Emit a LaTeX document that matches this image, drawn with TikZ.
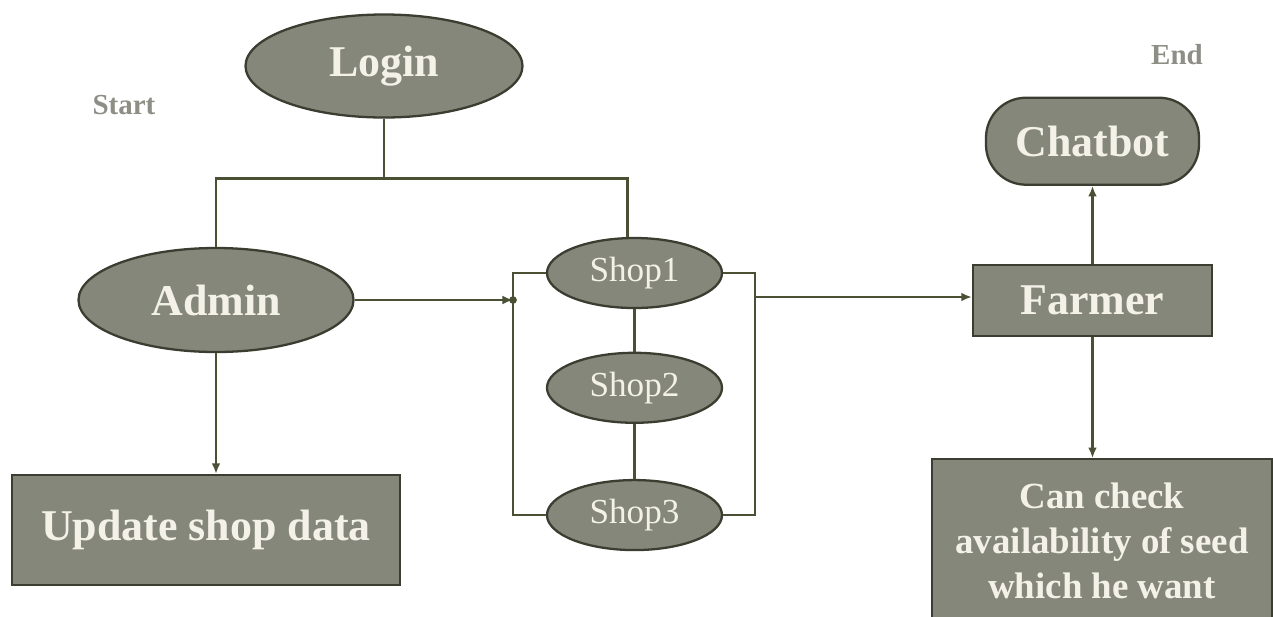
\documentclass[tikz,border=0pt]{standalone}
\usepackage{fontspec}
\setmainfont{Liberation Serif}
\usepackage{xcolor}
\definecolor{SageFill}{HTML}{85877A}
\definecolor{DarkRim}{HTML}{3A3D30}
\definecolor{OliveLine}{HTML}{4A5034}
\definecolor{Cream}{HTML}{F3F1E8}
\definecolor{SoftGray}{HTML}{8E8E86}
\usetikzlibrary{shapes.geometric, arrows.meta, positioning, calc}

\begin{document}
\begin{tikzpicture}[node distance=1cm,
        stage/.style={draw=DarkRim, line width=1.3pt, fill=SageFill, text=Cream, font=\fontsize{25}{30}\selectfont\bfseries},
        shopnode/.style={ellipse, draw=DarkRim, line width=1.3pt, fill=SageFill, text=Cream, minimum width=3.5cm, minimum height=1.4cm, font=\fontsize{20}{24}\selectfont},
        flow/.style={OliveLine, line width=1.6pt},
        tip/.style={flow, -{Latex[length=6pt, width=5pt]}},
        marker/.style={text=SoftGray, font=\fontsize{16.5}{20}\selectfont\bfseries}]
        \useasboundingbox (0,0) rectangle (25.46,-12.32);

        \node (login) [stage, ellipse, minimum width=5.54cm, minimum height=2.06cm] at (7.68,-1.32) {Login};
        \node (start) [marker] at (2.48,-2.10) {Start};
        \node (admin) [stage, ellipse, minimum width=5.5cm, minimum height=2.08cm] at (4.32,-6.00) {Admin};
        \node (update) [stage, rectangle, minimum width=7.76cm, minimum height=2.2cm] at (4.12,-10.60) {Update shop data};

        \node (shop1) [shopnode] at (12.69,-5.46) {Shop1};
        \node (shop2) [shopnode, below=0.85cm of shop1] {Shop2};
        \node (shop3) [shopnode, below=1.1cm of shop2] {Shop3};

        \node (farmer) [stage, rectangle, minimum width=4.78cm, minimum height=1.42cm] at (21.85,-6.01) {Farmer};
        \node (chatbot) [stage, rectangle, rounded corners=0.8cm, minimum width=4.26cm, minimum height=1.74cm, above=1.56cm of farmer] {Chatbot};
        \node (endmark) [marker] at (23.54,-1.10) {End};
        \node (check) [stage, rectangle, minimum width=6.8cm, minimum height=3.26cm, align=center, below=2.42cm of farmer, xshift=0.19cm,
            font=\fontsize{21}{25.5}\selectfont\bfseries] {Can check\\availability of seed\\which he want};

        % junction points on the buses
        \coordinate (split) at ($(login.south)+(0,-1.2)$);
        \coordinate (shoptop) at ($(shop1.north)+(-0.14,0)$);
        \coordinate (lbus) at (10.26,-6.00);
        \coordinate (rbus) at (15.10,-5.94);

        \draw[flow] (login.south) -- (split);
        \draw[flow] (admin.north) |- (split) -| (shoptop);
        \draw[tip] (admin.east) -- (lbus);
        \fill[OliveLine] (lbus) circle (2.2pt);
        \draw[flow] (shop1.west) -| (lbus) |- (shop3.west);
        \draw[flow] (shop1.east) -| (rbus) |- (shop3.east);
        \draw[flow] (shop1) -- (shop2);
        \draw[flow] (shop2) -- (shop3);
        \draw[tip] (rbus) -- (rbus -| farmer.west);

        \draw[tip] (admin.south) -- (admin.south |- update.north);
        \draw[tip] (farmer.north) -- (farmer.north |- chatbot.south);
        \draw[tip] (farmer.south) -- (farmer.south |- check.north);
    \end{tikzpicture}
\end{document}
